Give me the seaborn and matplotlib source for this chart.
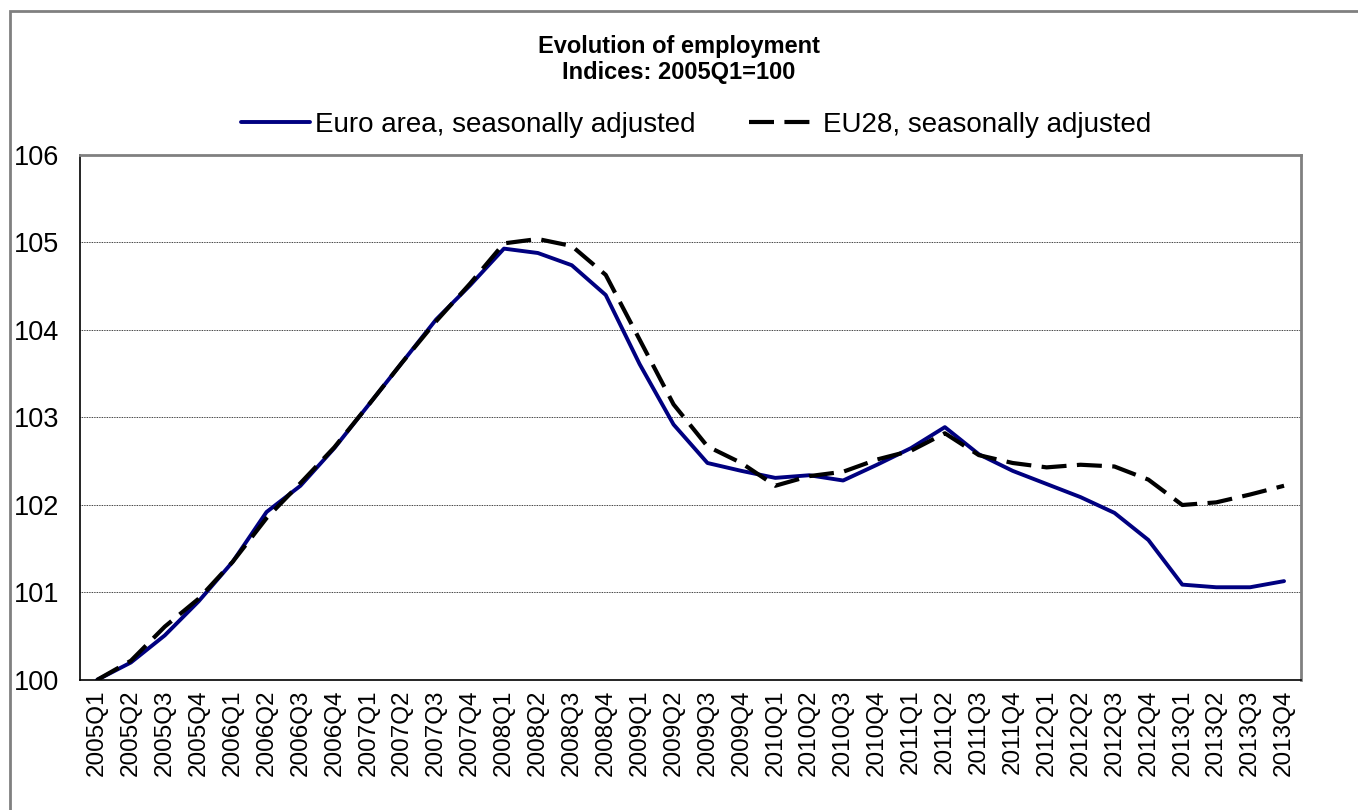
import matplotlib
matplotlib.use("Agg")
import matplotlib.pyplot as plt
from matplotlib.patches import Rectangle
import seaborn as sns
import pandas as pd

quarters = [f"{y}Q{q}" for y in range(2005, 2014) for q in range(1, 5)]

euro_area = [100.00, 100.20, 100.51, 100.90, 101.35, 101.92, 102.22, 102.65,
             103.14, 103.63, 104.12, 104.51, 104.93, 104.88, 104.74, 104.40,
             103.61, 102.92, 102.48, 102.39, 102.31, 102.34, 102.28, 102.46,
             102.65, 102.89, 102.58, 102.39, 102.24, 102.09, 101.91, 101.60,
             101.09, 101.06, 101.06, 101.13]

eu28 = [100.00, 100.22, 100.61, 100.93, 101.35, 101.85, 102.25, 102.66,
        103.14, 103.63, 104.10, 104.53, 104.99, 105.04, 104.96, 104.63,
        103.89, 103.15, 102.67, 102.48, 102.22, 102.33, 102.38, 102.52,
        102.62, 102.82, 102.57, 102.48, 102.43, 102.46, 102.44, 102.29,
        102.00, 102.03, 102.12, 102.22]

labels = ["Euro area, seasonally adjusted", "EU28, seasonally adjusted"]

df = pd.DataFrame({"pos": range(len(quarters)), "Euro": euro_area, "EU28": eu28})

sns.set_style("white")
plt.rcParams["font.family"] = ["Liberation Sans", "DejaVu Sans"]
plt.rcParams["text.color"] = "black"
plt.rcParams["xtick.color"] = "black"
plt.rcParams["ytick.color"] = "black"

fig = plt.figure(figsize=(13.58, 8.10), dpi=100)
W, H = 1358, 810
ax = fig.add_axes([80 / W, 1 - 680 / H, (1301 - 80) / W, (680 - 155) / H])

# outer frame of the chart
fig.patches.append(Rectangle((10 / W, -0.1), 1.2, 1 - 11 / H + 0.1, transform=fig.transFigure,
                             fill=False, edgecolor="#808080", linewidth=2))

sns.lineplot(data=df, x="pos", y="Euro", ax=ax, color="#000080", linewidth=2.8,
             label=labels[0])
sns.lineplot(data=df, x="pos", y="EU28", ax=ax, color="black", linewidth=3,
             label=labels[1], dashes=False)
ax.lines[1].set_dashes([6, 2.5])

ax.set_xlim(-0.5, len(quarters) - 0.5)
ax.set_ylim(100, 106)
ax.set_yticks(range(100, 107))
ax.set_xticks(range(len(quarters)))
ax.set_xticklabels(quarters, rotation=90, fontsize=17.5)
ax.set_xticks([i - 0.5 for i in range(len(quarters) + 1)], minor=True)
ax.tick_params(axis="x", which="major", length=0, pad=7)
ax.tick_params(axis="x", which="minor", length=6, width=1, color="black", direction="out")
ax.tick_params(axis="y", length=6, width=1, color="black", direction="out", labelsize=19.5, pad=9)
ax.set_xlabel("")
ax.set_ylabel("")

for v in range(101, 106):
    ax.axhline(v, color="black", linestyle=(0, (1, 1)), linewidth=0.6, zorder=0)

for side in ["top", "right"]:
    ax.spines[side].set_color("#808080")
    ax.spines[side].set_linewidth(2)
for side in ["left", "bottom"]:
    ax.spines[side].set_color("black")
    ax.spines[side].set_linewidth(1.2)

fig.text(0.5, 1 - 47 / H, "Evolution of employment", ha="center", va="center",
         fontsize=17, fontweight="bold")
fig.text(0.5, 1 - 73 / H, "Indices: 2005Q1=100", ha="center", va="center",
         fontsize=17, fontweight="bold")

ax.legend(loc="center", bbox_to_anchor=(696 / W, 1 - 125 / H), bbox_transform=fig.transFigure,
          ncol=2, frameon=False, fontsize=20, handlelength=2.5, handletextpad=0.15,
          columnspacing=1.95, borderpad=0, borderaxespad=0, labelcolor="black")

fig.savefig("out.png", dpi=100)
